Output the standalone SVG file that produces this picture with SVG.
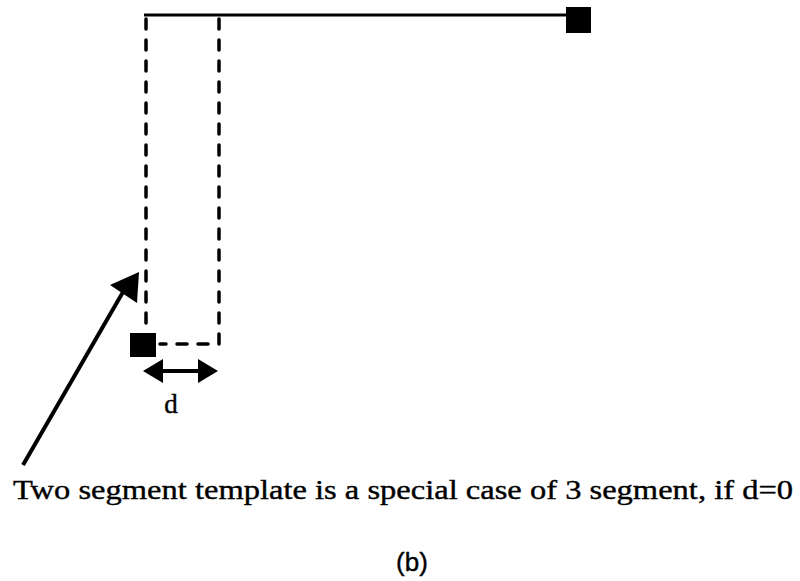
<svg xmlns="http://www.w3.org/2000/svg" width="800" height="581" viewBox="0 0 800 581">
<style>
.solid{stroke:#000;stroke-width:3;fill:none}
.dash{stroke:#000;stroke-width:3.5;fill:none;stroke-dasharray:10 11;stroke-linecap:round}
.term{fill:#000}
.txt{fill:#000;stroke:#000;stroke-width:0.4}
</style>
<g id="connectors">
<line class="solid" x1="144" y1="15" x2="570" y2="15"/>
<path class="dash" d="M146,19 V325"/>
<path class="dash" d="M219,19 V344 H160"/>
<line stroke="#000" stroke-width="4" x1="23" y1="465" x2="123" y2="292"/>
<path d="M139,272 L110,285 L137,303 Z" fill="#000"/>
<line stroke="#000" stroke-width="4" x1="158" y1="371" x2="202" y2="371"/>
<path d="M143,371 L163,359 L163,383 Z" fill="#000"/>
<path d="M218,371 L198,359 L198,383 Z" fill="#000"/>
</g>
<g id="end-top"><rect class="term" x="566" y="7" width="25" height="26"/></g>
<g id="end-bottom"><rect class="term" x="130" y="333" width="26" height="24"/></g>
<g id="label-d"><text class="txt" x="171" y="413" font-size="27" text-anchor="middle" font-family="'Liberation Serif','Times New Roman',serif">d</text></g>
<g id="caption"><text class="txt" x="13" y="499" font-size="28" textLength="780" lengthAdjust="spacingAndGlyphs" font-family="'Liberation Serif','Times New Roman',serif">Two segment template is a special case of 3 segment, if d=0</text></g>
<g id="label-b"><text class="txt" x="412" y="571" font-size="26" text-anchor="middle" font-family="'Liberation Sans',Arial,sans-serif">(b)</text></g>
</svg>
